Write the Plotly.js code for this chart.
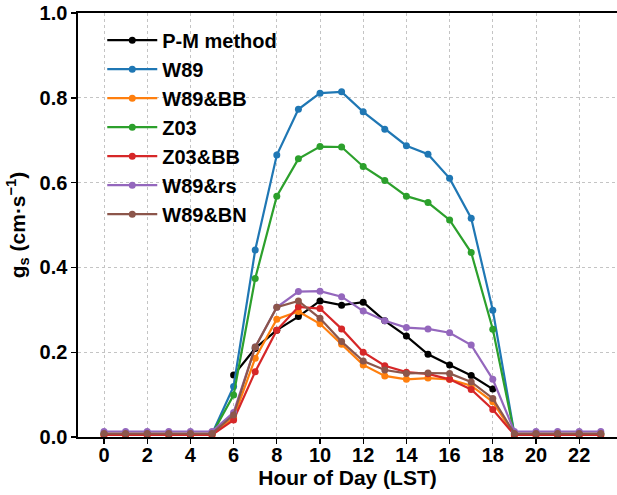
<!DOCTYPE html>
<html>
<head>
<meta charset="utf-8">
<script src="https://cdn.plot.ly/plotly-3.0.1.min.js"></script>
<style>html,body{margin:0;padding:0;background:#fff;}#chart{width:617px;height:495px;}</style>
</head>
<body>
<div id="chart"></div>
<script>
const hours = [0,1,2,3,4,5,6,7,8,9,10,11,12,13,14,15,16,17,18,19,20,21,22,23];
const seriesNames = ["P-M method","W89","W89&BB","Z03","Z03&BB","W89&rs","W89&BN"];
const pm     = [null,null,null,null,null,null,0.146,0.209,0.252,0.284,0.321,0.311,0.318,0.274,0.238,0.195,0.170,0.145,0.113,null,null,null,null,null];
const w89    = [0.007,0.007,0.007,0.007,0.007,0.007,0.119,0.441,0.665,0.773,0.811,0.814,0.767,0.726,0.687,0.667,0.610,0.516,0.299,0.007,0.007,0.007,0.007,0.007];
const w89bb  = [0.005,0.005,0.005,0.005,0.005,0.005,0.045,0.186,0.278,0.296,0.267,0.219,0.170,0.144,0.136,0.139,0.136,0.121,0.083,0.005,0.005,0.005,0.005,0.005];
const z03    = [0.007,0.007,0.007,0.007,0.007,0.007,0.099,0.374,0.568,0.656,0.685,0.684,0.638,0.605,0.568,0.553,0.512,0.435,0.254,0.007,0.007,0.007,0.007,0.007];
const z03bb  = [0.005,0.005,0.005,0.005,0.005,0.005,0.040,0.154,0.252,0.307,0.303,0.255,0.200,0.168,0.153,0.149,0.136,0.112,0.065,0.005,0.005,0.005,0.005,0.005];
const w89rs  = [0.013,0.013,0.013,0.013,0.013,0.013,0.058,0.212,0.306,0.343,0.344,0.331,0.297,0.274,0.258,0.255,0.246,0.217,0.136,0.013,0.013,0.013,0.013,0.013];
const w89bn  = [0.008,0.008,0.008,0.008,0.008,0.008,0.052,0.212,0.306,0.321,0.280,0.225,0.179,0.158,0.150,0.151,0.150,0.130,0.091,0.008,0.008,0.008,0.008,0.008];
const xTicks = [0,2,4,6,8,10,12,14,16,18,20,22];
const yTicks = [0.0,0.2,0.4,0.6,0.8,1.0];

const colors = ["#000000","#1f77b4","#ff7f0e","#2ca02c","#d62728","#9467bd","#8c564b"];
const values = [pm,w89,w89bb,z03,z03bb,w89rs,w89bn];

const traces = values.map((v,i)=>({
  x: hours, y: v, name: seriesNames[i], type:'scatter', mode:'lines+markers',
  line:{color:colors[i], width:2.2},
  marker:{color:colors[i], size:7, symbol:'circle'},
  connectgaps:false
}));

const font = {family:'"Liberation Sans", Arial, sans-serif', size:20, color:'#000', weight:'bold'};
const titleFont = {family:'"Liberation Sans", Arial, sans-serif', size:21, color:'#000', weight:'bold'};

const layout = {
  width:617, height:495,
  margin:{l:78, r:0, t:13, b:58, pad:0},
  paper_bgcolor:'#fff', plot_bgcolor:'#fff',
  font: font,
  showlegend:true,
  legend:{x:0.045, y:0.982, xanchor:'left', yanchor:'top', bgcolor:'rgba(0,0,0,0)', borderwidth:0,
          font:font, itemwidth:50, traceorder:'normal'},
  xaxis:{range:[-1.204, 23.75], tickvals:xTicks, ticktext:xTicks.map(String),
         showline:true, linecolor:'#000', linewidth:1.6, mirror:true,
         ticks:'outside', ticklen:5, tickwidth:1.4, tickcolor:'#000',
         ticklabelstandoff:-6,
         showgrid:true, gridcolor:'#c4c4c4', griddash:'dot', gridwidth:1,
         zeroline:false, tickfont:font,
         title:{text:'Hour of Day (LST)', font:titleFont, standoff:6}},
  yaxis:{range:[0,1], tickvals:yTicks, ticktext:yTicks.map(v=>v.toFixed(1)),
         showline:true, linecolor:'#000', linewidth:1.6, mirror:false,
         ticks:'outside', ticklen:5, tickwidth:1.4, tickcolor:'#000',
         showgrid:true, gridcolor:'#c4c4c4', griddash:'dot', gridwidth:1,
         zeroline:false, tickfont:font,
         title:{text:'g<sub>s</sub> (cm·s<sup>−1</sup>)', font:titleFont, standoff:8}}
};

Plotly.newPlot('chart', traces, layout, {displayModeBar:false, staticPlot:true});
</script>
</body>
</html>
